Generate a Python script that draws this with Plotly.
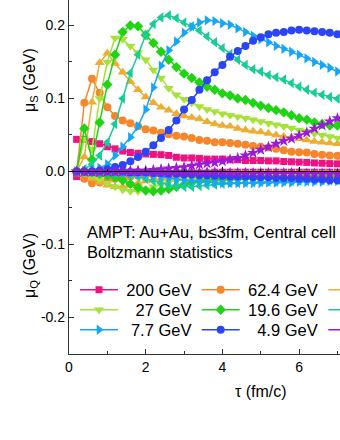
import plotly.graph_objects as go

# proper time (fm/c)
tau = [0.2, 0.4, 0.6, 0.8, 1.0, 1.2, 1.4, 1.6, 1.8, 2.0, 2.2, 2.4, 2.6, 2.8, 3.0, 3.2, 3.4, 3.6,
       3.8, 4.0, 4.2, 4.4, 4.6, 4.8, 5.0, 5.2, 5.4, 5.6, 5.8, 6.0, 6.2, 6.4, 6.6, 6.8, 7.0]

energies = ["200 GeV", "62.4 GeV", "39 GeV", "27 GeV", "19.6 GeV", "11.5 GeV", "7.7 GeV", "4.9 GeV", "2.7 GeV"]
# legend labels, padded so the numbers line up on the right
legend_labels = ["\u2009200 GeV", "\u200962.4 GeV", "\u2009\u200739 GeV",
                 "\u2009\u200727 GeV", "\u200919.6 GeV", "\u200911.5 GeV",
                 "\u2009\u20087.7 GeV", "\u2009\u20074.9 GeV", "\u2009\u20082.7 GeV"]

# mu_S (GeV)
mu_s_200 = [0.044, 0.044, 0.041, 0.038, 0.034, 0.031, 0.028, 0.026, 0.025, 0.024, 0.0235, 0.023,
            0.022, 0.0195, 0.0185, 0.0185, 0.018, 0.017, 0.017, 0.017, 0.016, 0.016, 0.015, 0.015,
            0.015, 0.0145, 0.0145, 0.0137, 0.0133, 0.0128, 0.0124, 0.0117, 0.0113, 0.0108, 0.0105]
mu_s_62 = [0.0, 0.094, 0.127, 0.108, 0.088, 0.076, 0.07, 0.066, 0.062, 0.058, 0.056, 0.053,
           0.051, 0.049, 0.048, 0.046, 0.043, 0.042, 0.040, 0.040, 0.039, 0.038, 0.0366, 0.035,
           0.034, 0.033, 0.031, 0.029, 0.027, 0.0265, 0.026, 0.024, 0.023, 0.022, 0.0215]
mu_s_39 = [0.0, 0.02, 0.095, 0.149, 0.162, 0.148, 0.136, 0.123, 0.112, 0.102, 0.094, 0.088,
           0.084, 0.079, 0.076, 0.074, 0.072, 0.068, 0.065, 0.063, 0.062, 0.059, 0.057, 0.055,
           0.054, 0.052, 0.050, 0.048, 0.047, 0.045, 0.043, 0.041, 0.040, 0.039, 0.038]
mu_s_27 = [0.0, 0.045, 0.03, 0.10, 0.15, 0.183, 0.181, 0.172, 0.163, 0.153, 0.139, 0.128,
           0.114, 0.105, 0.099, 0.094, 0.089, 0.085, 0.082, 0.079, 0.077, 0.075, 0.073, 0.071,
           0.0685, 0.066, 0.064, 0.062, 0.0595, 0.057, 0.055, 0.052, 0.050, 0.048, 0.046]
mu_s_19 = [0.0, 0.059, 0.016, 0.067, 0.119, 0.16, 0.191, 0.200, 0.199, 0.187, 0.176, 0.164,
           0.153, 0.143, 0.134, 0.128, 0.122, 0.116, 0.112, 0.107, 0.104, 0.100, 0.098, 0.094,
           0.090, 0.087, 0.084, 0.081, 0.077, 0.073, 0.071, 0.067, 0.065, 0.063, 0.063]
mu_s_11 = [0.0, 0.003, 0.01, 0.022, 0.04, 0.065, 0.10, 0.135, 0.16, 0.187, 0.202, 0.211,
           0.214, 0.210, 0.204, 0.199, 0.193, 0.185, 0.177, 0.169, 0.161, 0.153, 0.146, 0.140,
           0.137, 0.132, 0.129, 0.126, 0.121, 0.116, 0.112, 0.108, 0.105, 0.102, 0.0996]
mu_s_7 = [0.0, 0.0, 0.002, 0.005, 0.01, 0.022, 0.034, 0.047, 0.062, 0.085, 0.115, 0.145,
          0.166, 0.178, 0.190, 0.198, 0.204, 0.207, 0.206, 0.203, 0.201, 0.196, 0.191, 0.186,
          0.181, 0.177, 0.172, 0.168, 0.164, 0.160, 0.155, 0.150, 0.146, 0.142, 0.137]
mu_s_4 = [0.0, 0.0, 0.0, 0.001, 0.003, 0.006, 0.009, 0.014, 0.02, 0.027, 0.036, 0.046,
          0.057, 0.070, 0.085, 0.098, 0.112, 0.125, 0.136, 0.146, 0.157, 0.165, 0.172, 0.179,
          0.184, 0.188, 0.190, 0.191, 0.193, 0.194, 0.193, 0.192, 0.191, 0.190, 0.188]
mu_s_2 = [0.0, 0.0, 0.0, 0.0, 0.0, 0.0, 0.0005, 0.001, 0.001, 0.001, 0.002, 0.003,
          0.004, 0.005, 0.006, 0.008, 0.0098, 0.011, 0.0123, 0.014, 0.0165, 0.0185, 0.022, 0.0255,
          0.0297, 0.0335, 0.038, 0.042, 0.045, 0.0495, 0.0533, 0.0587, 0.0633, 0.0686, 0.073]

# mu_Q (GeV)
mu_q_200 = [-0.007, -0.005, -0.004, -0.003, -0.003, -0.002, -0.002, -0.002, -0.002, -0.002, -0.002, -0.002,
            -0.002, -0.002, -0.002, -0.002, -0.002, -0.002, -0.001, -0.001, -0.001, -0.001, -0.001, -0.001,
            -0.001, -0.001, -0.001, -0.001, -0.001, -0.001, -0.001, -0.001, -0.001, -0.001, -0.001]
mu_q_62 = [0.0, -0.01, -0.016, -0.015, -0.012, -0.01, -0.008, -0.007, -0.006, -0.005, -0.005, -0.004,
           -0.004, -0.004, -0.003, -0.003, -0.003, -0.003, -0.003, -0.003, -0.003, -0.003, -0.003, -0.003,
           -0.003, -0.003, -0.003, -0.003, -0.003, -0.003, -0.003, -0.003, -0.003, -0.003, -0.003]
mu_q_39 = [0.0, -0.004, -0.01, -0.015, -0.019, -0.021, -0.021, -0.019, -0.016, -0.013, -0.011, -0.010,
           -0.009, -0.008, -0.008, -0.007, -0.007, -0.006, -0.006, -0.006, -0.006, -0.005, -0.005, -0.005,
           -0.005, -0.005, -0.005, -0.005, -0.005, -0.005, -0.005, -0.005, -0.005, -0.005, -0.005]
mu_q_27 = [0.0, -0.002, -0.006, -0.011, -0.016, -0.021, -0.025, -0.027, -0.027, -0.025, -0.021, -0.017,
           -0.014, -0.012, -0.011, -0.010, -0.009, -0.009, -0.008, -0.008, -0.008, -0.007, -0.007, -0.007,
           -0.007, -0.007, -0.007, -0.006, -0.006, -0.006, -0.006, -0.006, -0.006, -0.006, -0.006]
mu_q_19 = [0.0, 0.0, -0.001, -0.003, -0.005, -0.008, -0.012, -0.017, -0.022, -0.026, -0.027, -0.026,
           -0.024, -0.021, -0.018, -0.015, -0.013, -0.012, -0.011, -0.011, -0.010, -0.010, -0.009, -0.009,
           -0.009, -0.008, -0.008, -0.008, -0.008, -0.007, -0.007, -0.007, -0.007, -0.007, -0.007]
mu_q_11 = [0.0, 0.0, 0.0, 0.0, -0.001, -0.002, -0.003, -0.005, -0.007, -0.010, -0.013, -0.016,
           -0.018, -0.020, -0.021, -0.021, -0.020, -0.019, -0.018, -0.017, -0.016, -0.016, -0.015, -0.015,
           -0.014, -0.014, -0.014, -0.013, -0.013, -0.013, -0.013, -0.012, -0.012, -0.012, -0.012]
mu_q_7 = [0.0, 0.0, 0.0, 0.0, 0.0, -0.001, -0.001, -0.002, -0.003, -0.004, -0.005, -0.007,
          -0.009, -0.011, -0.012, -0.013, -0.014, -0.015, -0.015, -0.016, -0.016, -0.016, -0.016, -0.016,
          -0.016, -0.015, -0.015, -0.015, -0.015, -0.014, -0.014, -0.014, -0.014, -0.013, -0.013]
mu_q_4 = [0.0, 0.0, 0.0, 0.0, 0.0, 0.0, 0.0, -0.001, -0.001, -0.001, -0.002, -0.002,
          -0.003, -0.003, -0.004, -0.004, -0.005, -0.005, -0.006, -0.006, -0.007, -0.007, -0.007, -0.008,
          -0.008, -0.008, -0.009, -0.009, -0.009, -0.010, -0.010, -0.011, -0.011, -0.012, -0.012]
mu_q_2 = [0.0, 0.0, 0.0, 0.0, 0.0, 0.0, 0.0, 0.0, 0.0, 0.0, 0.0, -0.001,
          -0.001, -0.001, -0.001, -0.001, -0.001, -0.001, -0.001, -0.001, -0.002, -0.002, -0.002, -0.002,
          -0.002, -0.002, -0.002, -0.002, -0.002, -0.002, -0.003, -0.003, -0.003, -0.003, -0.003]

mu_s = [mu_s_200, mu_s_62, mu_s_39, mu_s_27, mu_s_19, mu_s_11, mu_s_7, mu_s_4, mu_s_2]
mu_q = [mu_q_200, mu_q_62, mu_q_39, mu_q_27, mu_q_19, mu_q_11, mu_q_7, mu_q_4, mu_q_2]

x_ticks = [0, 2, 4, 6]
ys_ticks = [0.0, 0.1, 0.2]
ys_tick_text = ["0.0", "0.1", "0.2"]
yq_ticks = [-0.2, -0.1]
yq_tick_text = ["-0.2", "-0.1"]

# styles
colors = ["#EE1283", "#F5862C", "#ECAE32", "#A6E23A", "#1ED414", "#18CC98", "#16A6F5", "#2A45F5", "#9A1AD8"]
symbols = ["square", "circle", "triangle-up", "triangle-down", "diamond",
           "triangle-left", "triangle-right", "circle", "star"]
sizes = [7, 8, 9, 9, 8, 9, 9, 8, 9]

FONT = "Liberation Sans, Arial, sans-serif"
W, H = 340, 440

fig = go.Figure()

# mu_Q panel first (bottom), mu_S panel on top of it
for i in range(len(energies)):
    mk = dict(symbol=symbols[i], size=sizes[i], color=colors[i], line=dict(width=0))
    fig.add_trace(go.Scatter(
        x=tau, y=mu_q[i], mode="lines+markers", name=legend_labels[i], showlegend=False,
        line=dict(color=colors[i], width=1.5), marker=mk, cliponaxis=False,
        xaxis="x", yaxis="y"
    ))
for i in range(len(energies)):
    leg = "legend" if i == 0 else f"legend{i + 1}"
    mk = dict(symbol=symbols[i], size=sizes[i], color=colors[i], line=dict(width=0))
    fig.add_trace(go.Scatter(
        x=tau, y=mu_s[i], mode="lines+markers", name=legend_labels[i],
        line=dict(color=colors[i], width=1.5), marker=mk, cliponaxis=False,
        xaxis="x2", yaxis="y2", legend=leg
    ))

# legends: 3 columns x 3 rows, last column runs off the right edge
col_px = [75, 196.7, 323.3]
row_px = [290, 310, 330]
legends = {}
for i in range(len(energies)):
    leg = "legend" if i == 0 else f"legend{i + 1}"
    legends[leg] = dict(
        x=col_px[i % 3] / W, y=1 - row_px[i // 3] / H, xref="container", yref="container",
        xanchor="left", yanchor="middle", bgcolor="rgba(0,0,0,0)",
        font=dict(family=FONT, size=16.5, color="black"), itemwidth=38
    )

axis_col = "#333333"
y_min, y_max = -0.25, 0.2349
split = (0 - y_min) / (y_max - y_min)
x_max = (W - 69) / 38.35

tick_style = dict(showgrid=False, zeroline=False, showline=True, linecolor=axis_col, linewidth=1.3,
                  ticks="inside", ticklen=5, tickwidth=1.3, tickcolor=axis_col, tickfont=dict(size=14))

fig.update_layout(
    width=W, height=H,
    margin=dict(l=69, r=0, t=0, b=86, autoexpand=False),
    plot_bgcolor="white", paper_bgcolor="white",
    font=dict(family=FONT, size=14, color="black"),
    showlegend=True,
    xaxis=dict(
        range=[0, x_max], domain=[0, 1], anchor="y", tickvals=x_ticks,
        minor=dict(ticks="inside", ticklen=3, tickwidth=1.3, tickcolor=axis_col, dtick=1, tick0=0),
        **tick_style
    ),
    yaxis=dict(
        range=[y_min, 0], domain=[0, split], anchor="x", tickvals=yq_ticks, ticktext=yq_tick_text,
        minor=dict(ticks="inside", ticklen=3, tickwidth=1.3, tickcolor=axis_col, dtick=0.05, tick0=0),
        **tick_style
    ),
    xaxis2=dict(
        range=[0, x_max], domain=[0, 1], anchor="y2", matches="x",
        showgrid=False, zeroline=False, showline=True, linecolor="black", linewidth=1.2,
        ticks="inside", ticklen=4, tickwidth=1.2, tickcolor="black", tickvals=x_ticks,
        minor=dict(ticks="inside", ticklen=2.5, tickwidth=1.2, tickcolor="black", dtick=1, tick0=0),
        showticklabels=False
    ),
    yaxis2=dict(
        range=[0, y_max], domain=[split, 1], anchor="x2", tickvals=ys_ticks, ticktext=ys_tick_text,
        minor=dict(ticks="inside", ticklen=3, tickwidth=1.3, tickcolor=axis_col, dtick=0.05, tick0=0),
        **tick_style
    ),
    **legends
)

ann_font = dict(family=FONT, size=16.5, color="black")
fig.add_annotation(x=(85 - 69) / 38.35, y=-0.0833, xref="x", yref="y",
                   text="AMPT: Au+Au, b\u22643fm, Central cell",
                   showarrow=False, xanchor="left", yanchor="middle", font=ann_font)
fig.add_annotation(x=(85 - 69) / 38.35, y=-0.1107, xref="x", yref="y", text="Boltzmann statistics",
                   showarrow=False, xanchor="left", yanchor="middle", font=ann_font)
fig.add_annotation(x=(30 - 69) / (W - 69), xref="paper", y=0.1253, yref="y2", text="\u03bc<sub>S</sub> (GeV)",
                   textangle=-90, showarrow=False, xanchor="center", yanchor="middle",
                   font=dict(family=FONT, size=16, color="black"))
fig.add_annotation(x=(30 - 69) / (W - 69), xref="paper", y=-0.1295, yref="y", text="\u03bc<sub>Q</sub> (GeV)",
                   textangle=-90, showarrow=False, xanchor="center", yanchor="middle",
                   font=dict(family=FONT, size=16, color="black"))
fig.add_annotation(x=5.007, xref="x", y=(354 - 391.7) / 354, yref="paper", text="\u03c4 (fm/c)",
                   showarrow=False, xanchor="center", yanchor="middle", font=dict(family=FONT, size=16, color="black"))

# the page has a default 8px body margin; drop it so the figure sits at the corner
fig.write_html("out.html", config={"displayModeBar": False},
               post_script="document.body.style.margin='0';")
